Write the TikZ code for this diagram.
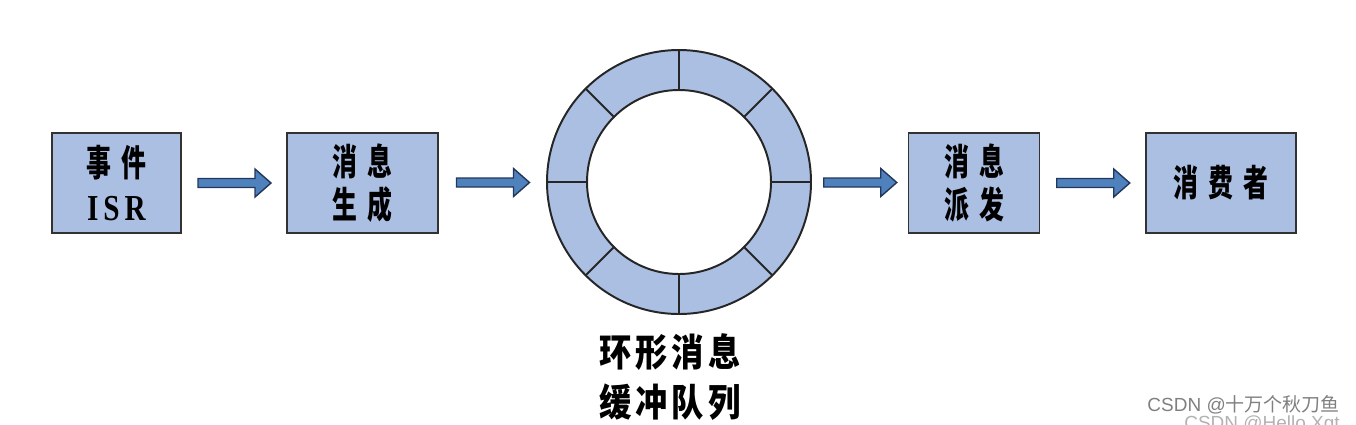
\documentclass[tikz,border=0pt]{standalone}
\usepackage{fontspec}
\setmainfont{Liberation Serif}
\newfontfamily\cjk{Noto Sans CJK SC}
\newfontfamily\boxcjk{Noto Sans CJK SC}[FakeStretch=0.68]
\newfontfamily\ringcjk{Noto Sans CJK SC}[FakeStretch=0.85]
\newfontfamily\boxlatin{Liberation Serif}[FakeStretch=0.8]
\newfontfamily\markfont{Liberation Sans}
\definecolor{boxblue}{RGB}{170,191,226}
\definecolor{arrowblue}{RGB}{79,129,189}
\definecolor{arrowedge}{RGB}{35,55,90}
\definecolor{boxedge}{RGB}{50,50,50}
\usetikzlibrary{calc}
\usetikzlibrary{positioning}
\newdimen\unitpx \unitpx=0.025cm
\newcommand\cgap{\hspace{10\unitpx}}
\newcommand\rgap{\hspace{4\unitpx}}

\begin{document}
\begin{tikzpicture}[x=0.025cm,y=-0.025cm]
  \useasboundingbox (0,0) rectangle (1356,424);

	 \tikzstyle{block}=[draw=boxedge, fill=boxblue, line width=1.4pt, minimum width=130\unitpx, minimum height=100\unitpx, inner sep=0pt, align=center, font=\boxcjk\bfseries\fontsize{26}{31}\selectfont]
	 \tikzstyle{wide block}=[block, minimum width=151\unitpx]
	 \tikzstyle{ring}=[circle, draw=black!85, fill=boxblue, line width=1.4pt, minimum size=264\unitpx, inner sep=0pt]
	 \tikzstyle{ring line}=[draw=black!85, line width=1.4pt]
	 \tikzstyle{flow}=[draw=arrowedge, fill=arrowblue, line width=1pt, to path={($(\tikztostart)!0.5!(\tikztotarget)+(-36,-4.5)$) -- ++(57,0) -- ++(0,-9.5) -- ++(16,14) -- ++(-16,14) -- ++(0,-9.5) -- ++(-57,0) -- cycle}]
	 \tikzstyle{watermark}=[anchor=east, inner sep=0pt, font=\markfont\fontsize{13.5}{16}\selectfont]

	 \node[block, minimum width=129\unitpx] (isr) at (116.5,183) {事\cgap 件\\{\boxlatin\bfseries I\hspace{5\unitpx}S\hspace{5\unitpx}R}};
	 \node[wide block] (gen) at (362.5,183) {消\cgap 息\\生\cgap 成};
	 \node[ring] (ring) at (679,182) {};
	 \node[block, minimum width=131\unitpx] (send) at (974,183) {消\cgap 息\\派\cgap 发};
	 \node[wide block, minimum width=150\unitpx] (user) at (1221,183) {消\cgap 费\cgap 者};

	 % ring buffer
	 \draw[ring line, fill=white] (ring.center) circle (92);
	 \foreach \a in {0,45,...,315}
	   \draw[ring line] ($(ring.center)+(\a:92)$) -- ($(ring.center)+(\a:132)$);
	 \node[align=center, font=\ringcjk\bfseries\fontsize{27}{35.6}\selectfont] (ringlabel) at (670,377) {环\rgap 形\rgap 消\rgap 息\\缓\rgap 冲\rgap 队\rgap 列};

	 \draw[flow] (isr.east) to (gen.west);
	 \draw[flow] (gen.east) to (ring.west);
	 \draw[flow] (ring.east) to (send.west);
	 \draw[flow] (send.east) to (user.west);

	 \node[watermark, text=black!50] (mark1) at (1340,405) {CSDN @{\cjk 十万个秋刀鱼}};
	 \node[watermark, text=black!30] (mark2) at (1340,425) {CSDN @Hello Xgt};
\end{tikzpicture}
\end{document}
